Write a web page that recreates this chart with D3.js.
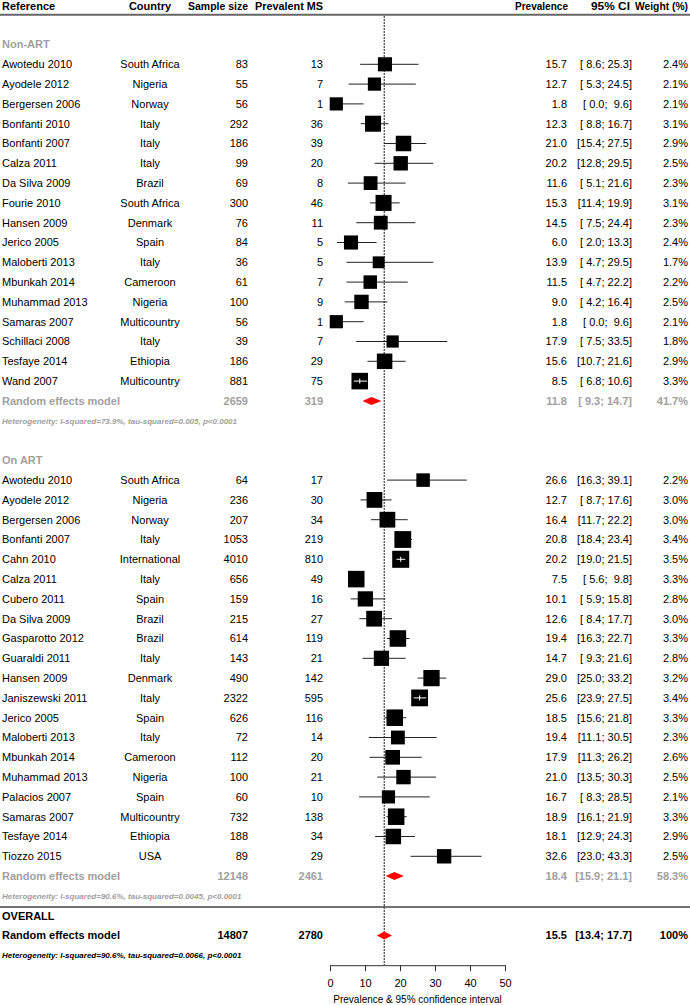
<!DOCTYPE html>
<html>
<head>
<meta charset="utf-8">
<script src="https://cdn.jsdelivr.net/npm/d3@7"></script>
<style>
  html, body { margin: 0; padding: 0; background: #fff; }
  svg { display: block; font-family: "Liberation Sans", Arial, sans-serif; }
  text { white-space: pre; }
</style>
</head>
<body>
<svg id="chart" width="690" height="1005"></svg>
<script>
// ---------- DATA ----------
const nonArtStudy = ["Awotedu 2010","Ayodele 2012","Bergersen 2006","Bonfanti 2010","Bonfanti 2007","Calza 2011","Da Silva 2009","Fourie 2010","Hansen 2009","Jerico 2005","Maloberti 2013","Mbunkah 2014","Muhammad 2013","Samaras 2007","Schillaci 2008","Tesfaye 2014","Wand 2007"];
const nonArtCountry = ["South Africa","Nigeria","Norway","Italy","Italy","Italy","Brazil","South Africa","Denmark","Spain","Italy","Cameroon","Nigeria","Multicountry","Italy","Ethiopia","Multicountry"];
const nonArtN = [83,55,56,292,186,99,69,300,76,84,36,61,100,56,39,186,881];
const nonArtMS = [13,7,1,36,39,20,8,46,11,5,5,7,9,1,7,29,75];
const nonArtPrev = [15.7,12.7,1.8,12.3,21.0,20.2,11.6,15.3,14.5,6.0,13.9,11.5,9.0,1.8,17.9,15.6,8.5];
const nonArtLo = [8.6,5.3,0.0,8.8,15.4,12.8,5.1,11.4,7.5,2.0,4.7,4.7,4.2,0.0,7.5,10.7,6.8];
const nonArtHi = [25.3,24.5,9.6,16.7,27.5,29.5,21.6,19.9,24.4,13.3,29.5,22.2,16.4,9.6,33.5,21.6,10.6];
const nonArtWeight = [2.4,2.1,2.1,3.1,2.9,2.5,2.3,3.1,2.3,2.4,1.7,2.2,2.5,2.1,1.8,2.9,3.3];
const nonArtPooled = {n: 2659, ms: 319, prev: 11.8, lo: 9.3, hi: 14.7, w: "41.7%"};
const nonArtHet = "Heterogeneity: I-squared=73.9%, tau-squared=0.005, p<0.0001";

const onArtStudy = ["Awotedu 2010","Ayodele 2012","Bergersen 2006","Bonfanti 2007","Cahn 2010","Calza 2011","Cubero 2011","Da Silva 2009","Gasparotto 2012","Guaraldi 2011","Hansen 2009","Janiszewski 2011","Jerico 2005","Maloberti 2013","Mbunkah 2014","Muhammad 2013","Palacios 2007","Samaras 2007","Tesfaye 2014","Tiozzo 2015"];
const onArtCountry = ["South Africa","Nigeria","Norway","Italy","International","Italy","Spain","Brazil","Brazil","Italy","Denmark","Italy","Spain","Italy","Cameroon","Nigeria","Spain","Multicountry","Ethiopia","USA"];
const onArtN = [64,236,207,1053,4010,656,159,215,614,143,490,2322,626,72,112,100,60,732,188,89];
const onArtMS = [17,30,34,219,810,49,16,27,119,21,142,595,116,14,20,21,10,138,34,29];
const onArtPrev = [26.6,12.7,16.4,20.8,20.2,7.5,10.1,12.6,19.4,14.7,29.0,25.6,18.5,19.4,17.9,21.0,16.7,18.9,18.1,32.6];
const onArtLo = [16.3,8.7,11.7,18.4,19.0,5.6,5.9,8.4,16.3,9.3,25.0,23.9,15.6,11.1,11.3,13.5,8.3,16.1,12.9,23.0];
const onArtHi = [39.1,17.6,22.2,23.4,21.5,9.8,15.8,17.7,22.7,21.6,33.2,27.5,21.8,30.5,26.2,30.3,28.5,21.9,24.3,43.3];
const onArtWeight = [2.2,3.0,3.0,3.4,3.5,3.3,2.8,3.0,3.3,2.8,3.2,3.4,3.3,2.3,2.6,2.5,2.1,3.3,2.9,2.5];
const onArtPooled = {n: 12148, ms: 2461, prev: 18.4, lo: 15.9, hi: 21.1, w: "58.3%"};
const onArtHet = "Heterogeneity: I-squared=90.6%, tau-squared=0.0045, p<0.0001";

const overallPooled = {n: 14807, ms: 2780, prev: 15.5, lo: 13.4, hi: 17.7, w: "100%"};
const overallHet = "Heterogeneity: I-squared=90.6%, tau-squared=0.0066, p<0.0001";

const headers = ["Reference","Country","Sample size","Prevalent MS","Prevalence","95% CI","Weight (%)"];
const groupLabels = ["Non-ART","On ART"];
const xTicks = [0,10,20,30,40,50];
const xTitle = "Prevalence & 95% confidence interval";

// ---------- LAYOUT ----------
const svg = d3.select("#chart");
const x = d3.scaleLinear().domain([0, 50]).range([330, 505]);
const y = d3.scaleLinear().domain([0, 1]).range([64.3, 84.1]); // row index -> px (center)
const FS = 11;
const base = i => y(i) + 3.9;

const col = {ref: 2, country: 150, n: 248, ms: 323, prev: 567, ci: 632, w: 688};
const GREY = "#a0a0a0";

const fmt1 = d3.format(".1f");
const pad4 = v => { const s = fmt1(v); return " ".repeat(Math.max(0, 4 - s.length)) + s; };
const ciText = (lo, hi) => "[" + pad4(lo) + "; " + pad4(hi) + "]";

function txt(xp, yp, s, opts = {}) {
  const t = svg.append("text")
    .attr("x", xp).attr("y", yp)
    .attr("text-anchor", opts.anchor || "start")
    .attr("font-size", opts.size || FS)
    .attr("font-weight", opts.weight || "normal")
    .attr("font-style", opts.style || "normal")
    .attr("fill", opts.fill || "#000")
    .text(s);
  if (opts.len) t.attr("textLength", opts.len).attr("lengthAdjust", "spacingAndGlyphs");
  return t;
}

// Header
const hy = base(-3) + 1.2;
txt(col.ref, hy, headers[0], {weight: "bold"});
txt(col.country, hy, headers[1], {weight: "bold", anchor: "middle"});
txt(col.n, hy, headers[2], {weight: "bold", anchor: "end", len: 60});
txt(col.ms, hy, headers[3], {weight: "bold", anchor: "end", len: 68});
txt(col.prev + 1, hy, headers[4], {weight: "bold", anchor: "end", len: 53});
txt(col.ci - 2, hy, headers[5], {weight: "bold", anchor: "end", len: 39});
txt(col.w, hy, headers[6], {weight: "bold", anchor: "end", len: 53, size: 10.5});
svg.append("line").attr("x1", 0).attr("x2", 690).attr("y1", y(-2.5)).attr("y2", y(-2.5))
  .attr("stroke", "#666").attr("stroke-width", 2);

// Reference dotted line (overall estimate)
svg.append("line")
  .attr("x1", x(overallPooled.prev)).attr("x2", x(overallPooled.prev))
  .attr("y1", y(-2.5) + 1.5).attr("y2", y(45.5))
  .attr("stroke", "#000").attr("stroke-width", 1.2).attr("stroke-dasharray", "1.5,1.5");

const boxSide = w => 9.1 * Math.sqrt(w);

function studyRows(startRow, study, country, n, ms, prev, lo, hi, wt) {
  study.forEach((s, k) => {
    const r = startRow + k, by = base(r), cy = y(r);
    txt(col.ref, by, s);
    txt(col.country, by, country[k], {anchor: "middle"});
    txt(col.n, by, n[k], {anchor: "end"});
    txt(col.ms, by, ms[k], {anchor: "end"});
    txt(col.prev, by, fmt1(prev[k]), {anchor: "end"});
    txt(col.ci, by, ciText(lo[k], hi[k]), {anchor: "end"});
    txt(col.w, by, fmt1(wt[k]) + "%", {anchor: "end"});
    const side = boxSide(wt[k]);
    const xl = x(lo[k]), xh = x(hi[k]), xc = x(prev[k]);
    const inside = (xh - xl) < 0.85 * side;
    if (!inside) {
      svg.append("line").attr("x1", xl).attr("x2", xh).attr("y1", cy).attr("y2", cy)
        .attr("stroke", "#222").attr("stroke-width", 1);
    }
    svg.append("rect").attr("x", xc - side / 2).attr("y", cy - side / 2)
      .attr("width", side).attr("height", side).attr("fill", "#000");
    if (inside) {
      svg.append("line").attr("x1", xl).attr("x2", xh).attr("y1", cy).attr("y2", cy)
        .attr("stroke", "#fff").attr("stroke-width", 1);
      svg.append("line").attr("x1", xc).attr("x2", xc).attr("y1", cy - 2.5).attr("y2", cy + 2.5)
        .attr("stroke", "#fff").attr("stroke-width", 1);
    }
  });
}

function diamond(r, p) {
  const cy = y(r), h = 4;
  const pts = [[x(p.lo), cy], [x(p.prev), cy - h], [x(p.hi), cy], [x(p.prev), cy + h]];
  svg.append("path").attr("d", "M" + pts.map(d => d.join(",")).join("L") + "Z").attr("fill", "#ff0000");
}

function pooledRow(r, p, opts) {
  const by = base(r);
  txt(col.ref, by, "Random effects model", opts);
  txt(col.n, by, p.n, Object.assign({anchor: "end"}, opts));
  txt(col.ms, by, p.ms, Object.assign({anchor: "end"}, opts));
  txt(col.prev, by, fmt1(p.prev), Object.assign({anchor: "end"}, opts));
  txt(col.ci, by, ciText(p.lo, p.hi), Object.assign({anchor: "end"}, opts));
  txt(col.w, by, p.w, Object.assign({anchor: "end"}, opts));
  diamond(r, p);
}

const HET = {size: 8, style: "italic", weight: "bold"};

// Non-ART
txt(col.ref, base(-1), groupLabels[0], {weight: "bold", fill: GREY});
studyRows(0, nonArtStudy, nonArtCountry, nonArtN, nonArtMS, nonArtPrev, nonArtLo, nonArtHi, nonArtWeight);
pooledRow(17, nonArtPooled, {weight: "bold", fill: GREY});
txt(col.ref, y(18) + 2.9, nonArtHet, Object.assign({fill: GREY}, HET));

// On ART
txt(col.ref, base(20), groupLabels[1], {weight: "bold", fill: GREY});
studyRows(21, onArtStudy, onArtCountry, onArtN, onArtMS, onArtPrev, onArtLo, onArtHi, onArtWeight);
pooledRow(41, onArtPooled, {weight: "bold", fill: GREY});
txt(col.ref, y(42) + 2.9, onArtHet, Object.assign({fill: GREY}, HET));

// Separator + overall
svg.append("line").attr("x1", 0).attr("x2", 690).attr("y1", y(42.56)).attr("y2", y(42.56))
  .attr("stroke", "#444").attr("stroke-width", 1.5);
txt(col.ref, base(43), "OVERALL", {weight: "bold"});
pooledRow(44, overallPooled, {weight: "bold"});
txt(col.ref, y(45) + 2.9, overallHet, HET);

// Axis
const axis = d3.axisBottom(x).tickValues(xTicks).tickSize(6).tickSizeOuter(0).tickPadding(8).tickFormat(d3.format("d"));
const ag = svg.append("g").attr("transform", `translate(0,${y(45.5)})`).call(axis);
ag.selectAll("path, line").attr("stroke", "#333").attr("stroke-width", 1);
ag.selectAll("text").attr("font-size", FS).attr("font-family", '"Liberation Sans", Arial, sans-serif').attr("fill", "#000");
txt((x(0) + x(50)) / 2, 1003, xTitle, {anchor: "middle", size: 10});
</script>
</body>
</html>
